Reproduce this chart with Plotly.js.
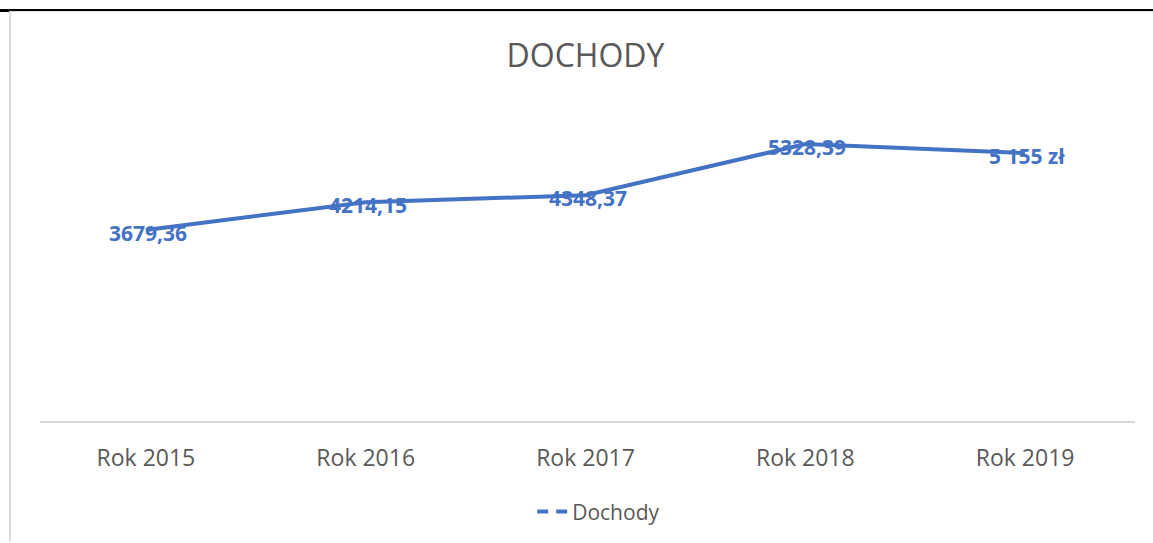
<!DOCTYPE html>
<html>
<head>
<meta charset="utf-8">
<script src="https://cdn.plot.ly/plotly-3.0.1.min.js"></script>
<style>
  html, body { margin: 0; padding: 0; background: #fff; }
  #chart { position: absolute; left: 0; top: 0; width: 1153px; height: 543px; }
  .blk { position: absolute; left: 0; top: 9px; width: 1153px; height: 2px; background: #000; }
  .blk2 { position: absolute; left: 0; top: 10px; width: 10px; height: 2px; background: #000; }
  .gtop { position: absolute; left: 10px; top: 11px; width: 1143px; height: 1px; background: #d9d9d9; }
  .gleft { position: absolute; left: 9px; top: 11px; width: 2px; height: 530px; background: #d9d9d9; }
</style>
</head>
<body>
<div id="chart"></div>
<div class="blk"></div><div class="blk2"></div><div class="gtop"></div><div class="gleft"></div>
<script>
const categories = ['Rok 2015', 'Rok 2016', 'Rok 2017', 'Rok 2018', 'Rok 2019'];
const dochody = [3679.36, 4214.15, 4348.37, 5328.39, 5155];
const labels = ['3679,36', '4214,15', '4348,37', '5328,39', '5 155 zł'];
const seriesName = 'Dochody';

const blue = '#4472C4';
const grey = '#595959';
const fontFam = '"Open Sans", "Noto Sans", sans-serif';

const traces = [
  {
    type: 'scatter',
    mode: 'lines',
    x: categories,
    y: dochody,
    line: { color: blue, width: 4 },
    showlegend: false,
    hoverinfo: 'skip',
    cliponaxis: false
  },
  {
    type: 'scatter',
    mode: 'lines',
    x: [null],
    y: [null],
    name: seriesName,
    line: { color: blue, width: 4, dash: '11px,8px,11px' },
    showlegend: true,
    hoverinfo: 'skip'
  }
];

const annotations = categories.map((c, i) => ({
  x: c, y: dochody[i], xref: 'x', yref: 'y',
  text: labels[i], showarrow: false,
  xanchor: 'center', yanchor: 'middle',
  xshift: 2, yshift: -3,
  font: { family: fontFam, size: 21, color: blue, weight: 'bold' }
}));

const layout = {
  width: 1153,
  height: 543,
  margin: { l: 36, r: 18, t: 109, b: 120 },
  paper_bgcolor: 'rgba(0,0,0,0)',
  plot_bgcolor: 'rgba(0,0,0,0)',
  title: {
    text: 'DOCHODY',
    font: { family: fontFam, size: 32, color: grey },
    x: 0.5, xref: 'paper', xanchor: 'center',
    y: 1 - 56 / 543, yref: 'container', yanchor: 'middle'
  },
  xaxis: {
    type: 'category',
    range: [-0.5, 4.5],
    showgrid: false,
    zeroline: false,
    showline: false,
    ticks: '',
    ticklabelstandoff: 20,
    tickfont: { family: fontFam, size: 23, color: grey },
    fixedrange: true
  },
  yaxis: {
    range: [0, 6000],
    showgrid: false,
    zeroline: false,
    showline: false,
    showticklabels: false,
    ticks: '',
    fixedrange: true
  },
  annotations: annotations,
  shapes: [
    {
      type: 'line', xref: 'paper', yref: 'paper',
      x0: 4 / 1099, x1: 1, y0: 0, y1: 0,
      line: { color: '#d9d9d9', width: 2 }
    }
  ],
  showlegend: true,
  legend: {
    orientation: 'h',
    x: 0.512, xanchor: 'center',
    y: -0.283, yanchor: 'middle',
    font: { family: fontFam, size: 21, color: grey },
    bgcolor: 'rgba(0,0,0,0)'
  }
};

Plotly.newPlot('chart', traces, layout, { displayModeBar: false, staticPlot: true });
</script>
</body>
</html>
